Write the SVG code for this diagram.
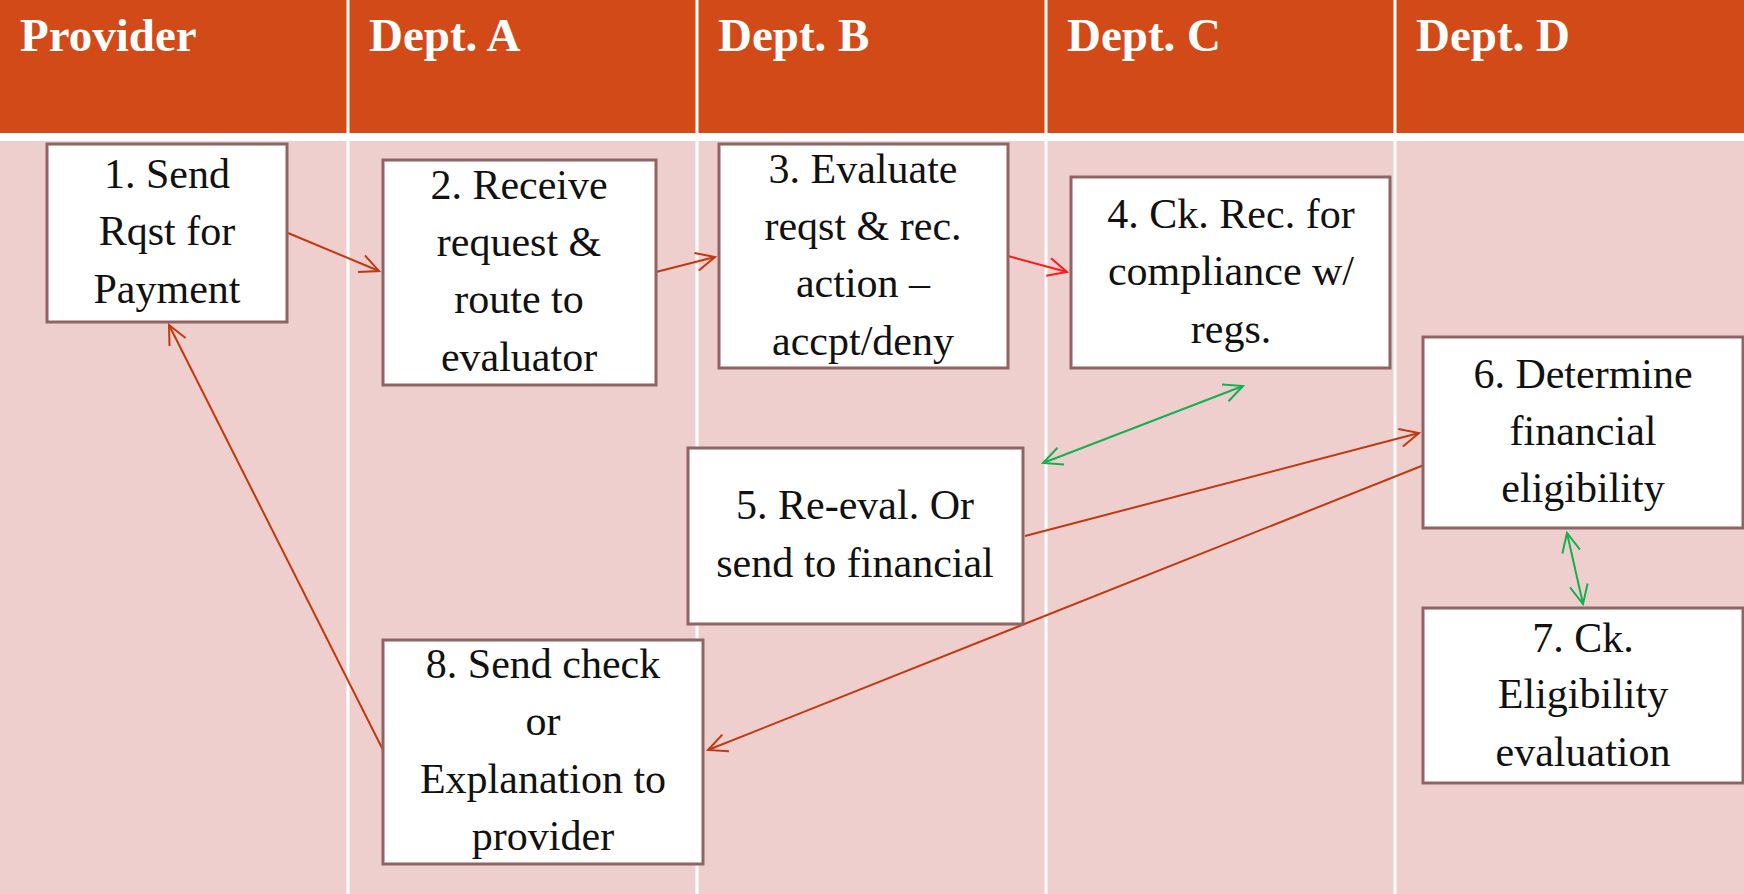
<svg xmlns="http://www.w3.org/2000/svg" width="1744" height="894" viewBox="0 0 1744 894">
<style>
.hdr{fill:#D24A18}
.body{fill:#EECFCD}
.div{stroke:#FFFFFF;stroke-width:3}
.ht{font-family:"Liberation Serif",serif;font-weight:bold;font-size:47px;fill:#FFFFFF}
.box{fill:#FFFFFF;stroke:#8E6464;stroke-width:3}
.t{font-family:"Liberation Serif",serif;font-size:42px;fill:#111111;text-anchor:middle}
.c{fill:none;stroke:#C0390F;stroke-width:2}
.r{fill:none;stroke:#FF1A1A;stroke-width:2}
.g{fill:none;stroke:#12B050;stroke-width:2}
</style>
<defs>
<marker id="ac" markerUnits="userSpaceOnUse" markerWidth="24" markerHeight="22" refX="21" refY="11" orient="auto-start-reverse" viewBox="0 0 24 22"><path d="M2,2 L21,11 L2,20" fill="none" stroke="#C0390F" stroke-width="2"/></marker>
<marker id="ar" markerUnits="userSpaceOnUse" markerWidth="24" markerHeight="22" refX="21" refY="11" orient="auto-start-reverse" viewBox="0 0 24 22"><path d="M2,2 L21,11 L2,20" fill="none" stroke="#FF1A1A" stroke-width="2"/></marker>
<marker id="ag" markerUnits="userSpaceOnUse" markerWidth="24" markerHeight="22" refX="21" refY="11" orient="auto-start-reverse" viewBox="0 0 24 22"><path d="M2,2 L21,11 L2,20" fill="none" stroke="#12B050" stroke-width="2"/></marker>
</defs>
<rect width="1744" height="894" fill="#FFFFFF"/>
<g id="lanes">
<rect class="hdr" x="0" y="0" width="1744" height="133"/>
<rect class="body" x="0" y="141" width="1744" height="753"/>
<line class="div" x1="348" y1="0" x2="348" y2="894"/>
<line class="div" x1="697" y1="0" x2="697" y2="894"/>
<line class="div" x1="1046" y1="0" x2="1046" y2="894"/>
<line class="div" x1="1395" y1="0" x2="1395" y2="894"/>
<text class="ht" x="20" y="51">Provider</text>
<text class="ht" x="369" y="51">Dept. A</text>
<text class="ht" x="718" y="51">Dept. B</text>
<text class="ht" x="1067" y="51">Dept. C</text>
<text class="ht" x="1416" y="51">Dept. D</text>
</g>
<g id="connectors">
<line class="c" x1="288" y1="233" x2="379" y2="271" marker-end="url(#ac)"/>
<line class="c" x1="656" y1="272" x2="715" y2="257" marker-end="url(#ac)"/>
<line class="r" x1="1008" y1="256" x2="1067" y2="272" marker-end="url(#ar)"/>
<line class="g" x1="1043" y1="463" x2="1243" y2="386" marker-start="url(#ag)" marker-end="url(#ag)"/>
<line class="c" x1="1025" y1="536" x2="1419" y2="433" marker-end="url(#ac)"/>
<line class="c" x1="1424" y1="465" x2="708" y2="750" marker-end="url(#ac)"/>
<line class="c" x1="383" y1="750" x2="169" y2="325" marker-end="url(#ac)"/>
<line class="g" x1="1567" y1="533" x2="1583" y2="604" marker-start="url(#ag)" marker-end="url(#ag)"/>
</g>
<g id="n1">
<rect class="box" x="47" y="144" width="240" height="178"/>
<text class="t" x="167" y="188">1. Send</text>
<text class="t" x="167" y="245">Rqst for</text>
<text class="t" x="167" y="303">Payment</text>
</g>
<g id="n2">
<rect class="box" x="383" y="160" width="273" height="225"/>
<text class="t" x="519" y="199">2. Receive</text>
<text class="t" x="519" y="256">request &amp;</text>
<text class="t" x="519" y="313">route to</text>
<text class="t" x="519" y="371">evaluator</text>
</g>
<g id="n3">
<rect class="box" x="719" y="144" width="289" height="224"/>
<text class="t" x="863" y="183">3. Evaluate</text>
<text class="t" x="863" y="240">reqst &amp; rec.</text>
<text class="t" x="863" y="297">action –</text>
<text class="t" x="863" y="355">accpt/deny</text>
</g>
<g id="n4">
<rect class="box" x="1071" y="177" width="319" height="191"/>
<text class="t" x="1231" y="228">4. Ck. Rec. for</text>
<text class="t" x="1231" y="285">compliance w/</text>
<text class="t" x="1231" y="343">regs.</text>
</g>
<g id="n5">
<rect class="box" x="688" y="448" width="335" height="176"/>
<text class="t" x="855" y="519">5. Re-eval. Or</text>
<text class="t" x="855" y="577">send to financial</text>
</g>
<g id="n6">
<rect class="box" x="1423" y="337" width="320" height="191"/>
<text class="t" x="1583" y="388">6. Determine</text>
<text class="t" x="1583" y="445">financial</text>
<text class="t" x="1583" y="502">eligibility</text>
</g>
<g id="n7">
<rect class="box" x="1423" y="608" width="320" height="175"/>
<text class="t" x="1583" y="652">7. Ck.</text>
<text class="t" x="1583" y="708">Eligibility</text>
<text class="t" x="1583" y="766">evaluation</text>
</g>
<g id="n8">
<rect class="box" x="383" y="640" width="320" height="224"/>
<text class="t" x="543" y="678">8. Send check</text>
<text class="t" x="543" y="735">or</text>
<text class="t" x="543" y="793">Explanation to</text>
<text class="t" x="543" y="850">provider</text>
</g>
</svg>
